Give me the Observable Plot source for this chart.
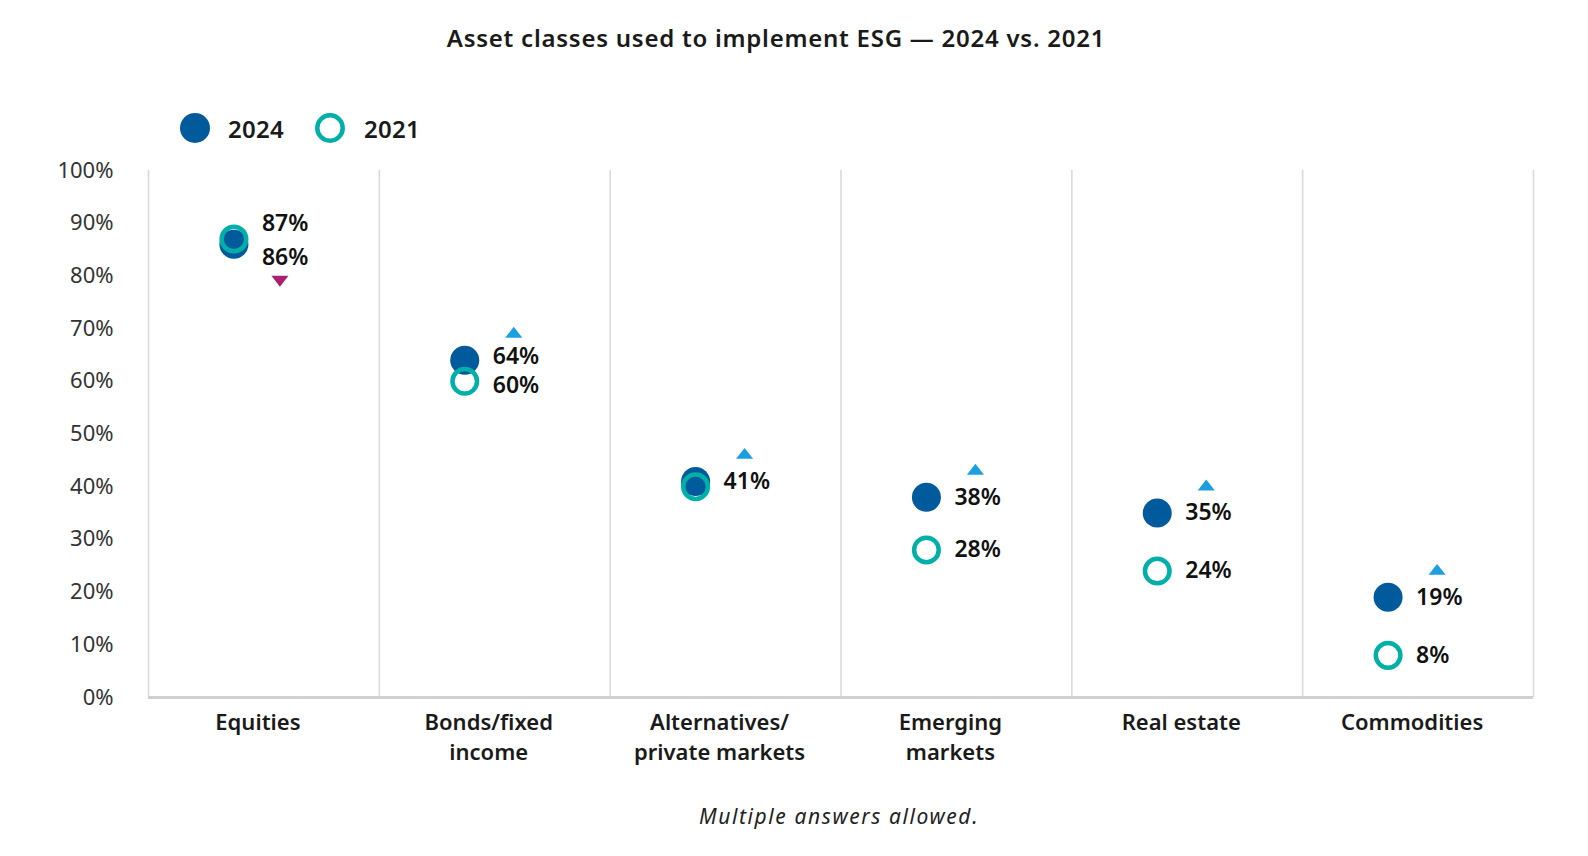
<!DOCTYPE html>
<html>
<head>
<meta charset="utf-8">
<script src="https://cdn.jsdelivr.net/npm/d3@7"></script>
<script src="https://cdn.jsdelivr.net/npm/@observablehq/plot@0.6"></script>
<style>
  html, body { margin: 0; background: #fff; overflow: hidden; }
  body { font-family: "Noto Sans", Lato, sans-serif; color: #1a1a1a; }
  #wrap { position: relative; width: 1588px; height: 850px; overflow: hidden; }
  #title { position: absolute; left: 0; width: 1552px; top: 21px; text-align: center; font-size: 24px; font-weight: 600; letter-spacing: 0.75px; color: #1a1a1a; line-height: normal; white-space: nowrap; }
  .lg { position: absolute; top: 112px; height: 32px; display: flex; align-items: center; font-size: 24px; font-weight: 600; color: #1a1a1a; letter-spacing: 0.3px; }
  .lg svg { display: block; }
  #chart { position: absolute; left: 0; top: 150px; }
  #caption { position: absolute; left: 90px; width: 1498px; top: 802px; text-align: center; font-size: 21px; font-style: italic; letter-spacing: 1.6px; color: #222; line-height: normal; }
</style>
</head>
<body>
<div id="wrap">
  <div id="title">Asset classes used to implement ESG — 2024 vs. 2021</div>
  <div class="lg" style="left:180px"><svg width="30" height="30"><circle cx="15" cy="15" r="15" fill="#005a9c"></circle></svg></div>
  <div class="lg" style="left:228px">2024</div>
  <div class="lg" style="left:315px"><svg width="30" height="30"><circle cx="15" cy="15" r="12.7" fill="none" stroke="#00b0a8" stroke-width="4.5"></circle></svg></div>
  <div class="lg" style="left:364px">2021</div>
  <div id="chart"></div>
  <div id="caption">Multiple answers allowed.</div>
</div>
<script>
const categories = ["Equities", "Bonds/fixed\nincome", "Alternatives/\nprivate markets", "Emerging\nmarkets", "Real estate", "Commodities"];
const values2024 = [86, 64, 41, 38, 35, 19];
const values2021 = [87, 60, 40, 28, 24, 8];
const labels2024 = ["86%", "64%", "41%", "38%", "35%", "19%"];
const labels2021 = ["87%", "60%", "", "28%", "24%", "8%"];
const change = ["down", "up", "up", "up", "up", "up"];
const yTicks = [0, 10, 20, 30, 40, 50, 60, 70, 80, 90, 100];

const C2024 = "#005a9c", C2021 = "#00b0a8", CUP = "#1a9fe0", CDOWN = "#a8206e";
const FONT = "'Noto Sans', Lato, sans-serif";

const rows = categories.map((c, i) => ({
  i: i + 0.5,
  v24: values2024[i], v21: values2021[i],
  l24: labels2024[i], l21: labels2021[i],
  ch: change[i]
}));

// label positions: nudge apart when the two values collide
const labelRows = [];
rows.forEach(r => {
  const d = Math.abs(r.v24 - r.v21);
  const both = r.l24 && r.l21;
  const up = !both || d >= 6 ? 0 : (d < 2 ? 3 : 0.6);
  const down = !both || d >= 6 ? 0 : (d < 2 ? 2.5 : 0.9);
  const hi24 = r.v24 >= r.v21;
  if (r.l24) labelRows.push({i: r.i, y: r.v24 + (hi24 ? up : -down), t: r.l24});
  if (r.l21) labelRows.push({i: r.i, y: r.v21 + (hi24 ? -down : up), t: r.l21});
});

const tri = {
  draw(ctx, size) {
    const s = Math.sqrt(size / Math.PI);
    ctx.moveTo(-s, s * 0.64);
    ctx.lineTo(s, s * 0.64);
    ctx.lineTo(0, -s * 0.64);
    ctx.closePath();
  }
};

const bounds = d3.range(0, categories.length + 1);

const chart = Plot.plot({
  width: 1588,
  height: 627,
  marginLeft: 148,
  marginRight: 55,
  marginTop: 20,
  marginBottom: 80,
  style: {fontFamily: FONT, background: "transparent"},
  x: {domain: [0, categories.length], axis: null},
  y: {domain: [0, 100], axis: null},
  marks: [
    Plot.ruleX(bounds, {x: d => d, y1: 0, y2: 100, stroke: "#dadada", strokeWidth: 1.6}),
    Plot.ruleY([0], {stroke: "#d0d0d0", strokeWidth: 3}),
    Plot.axisY(yTicks, {tickSize: 0, tickPadding: 35, tickFormat: d => d + "%", fontSize: 22, fill: "#333", anchor: "left", label: null, style: {letterSpacing: "1px"}}),
    Plot.axisX(rows.map(r => r.i), {tickSize: 0, tickPadding: 11, tickFormat: (d, k) => categories[k], fontSize: 22, fontWeight: 600, fill: "#1a1a1a", lineHeight: 1.38, dx: -6, anchor: "bottom", label: null, style: {letterSpacing: "0.5px"}}),
    Plot.dot(rows, {x: "i", y: "v24", r: 14.5, fill: C2024, dx: -30}),
    Plot.dot(rows, {x: "i", y: "v21", r: 12.3, fill: "none", stroke: C2021, strokeWidth: 4.5, dx: -30}),
    Plot.text(labelRows, {x: "i", y: "y", text: "t", dx: -2, textAnchor: "start", fontSize: 23, fontWeight: 600, fill: "#111", style: {letterSpacing: "1.5px"}}),
    Plot.dot(rows.filter(r => r.ch === "up"), {x: "i", y: d => Math.max(d.v24, d.v21), dy: -28, dx: 19, r: 8.5, symbol: tri, fill: CUP}),
    Plot.dot(rows.filter(r => r.ch === "down"), {x: "i", y: d => Math.min(d.v24, d.v21), dy: 37, dx: 16, r: 8.5, symbol: tri, rotate: 180, fill: CDOWN})
  ]
});
document.getElementById("chart").appendChild(chart);
</script>
</body>
</html>
